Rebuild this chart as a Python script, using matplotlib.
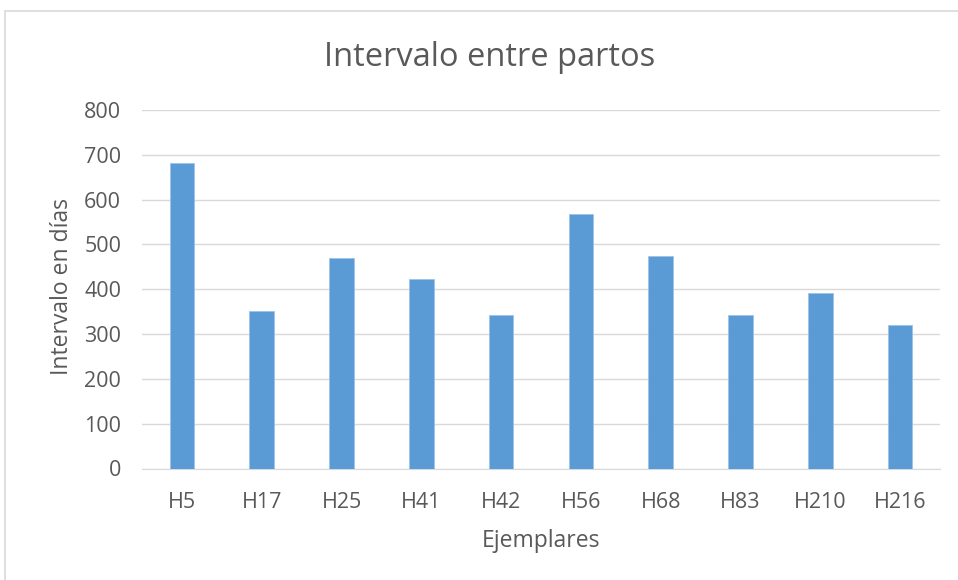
import matplotlib.pyplot as plt
from matplotlib.patches import Rectangle

categories = ["H5", "H17", "H25", "H41", "H42", "H56", "H68", "H83", "H210", "H216"]
intervalo = [681, 352, 469, 423, 343, 567, 474, 343, 391, 320]
yticks = [0, 100, 200, 300, 400, 500, 600, 700, 800]

plt.rcParams['font.family'] = ['Open Sans', 'DejaVu Sans']
text_color = '#595959'
W, H = 958, 580

fig = plt.figure(figsize=(9.58, 5.8), dpi=100)
# chart border (only left and top edges visible in the crop)
fig.patches.append(Rectangle((5 / W, -0.1), 1.2, 1 - 11 / H + 0.1,
                             transform=fig.transFigure, fill=False,
                             edgecolor='#d9d9d9', linewidth=1.2))

ax = fig.add_axes([142 / W, 1 - 468.5 / H, 798 / W, 358.5 / H])
x = range(len(categories))
ax.bar(x, intervalo, width=0.31, color='#5b9bd5', edgecolor='#9dc3e6', linewidth=0.6, zorder=3)

ax.set_ylim(0, 800)
ax.set_xlim(-0.5, len(categories) - 0.5)
ax.set_yticks(yticks)
ax.set_xticks(list(x))
ax.set_xticklabels(categories)
ax.yaxis.grid(True, color='#d9d9d9', linewidth=1)
ax.set_axisbelow(True)
for s in ['top', 'right', 'left']:
    ax.spines[s].set_visible(False)
ax.spines['bottom'].set_color('#d9d9d9')
ax.tick_params(length=0, labelsize=15.5, colors=text_color)
ax.tick_params(axis='x', pad=17)
ax.tick_params(axis='y', pad=15)

fig.text(490 / W, 1 - 58 / H, "Intervalo entre partos", fontsize=23.5,
         color=text_color, ha='center', va='center')
fig.text(541 / W, 1 - 541 / H, "Ejemplares", fontsize=16.5,
         color=text_color, ha='center', va='center')
fig.text(62 / W, 1 - 287 / H, "Intervalo en días", fontsize=16.5,
         color=text_color, ha='center', va='center', rotation=90)

fig.savefig("out.png", dpi=100)
